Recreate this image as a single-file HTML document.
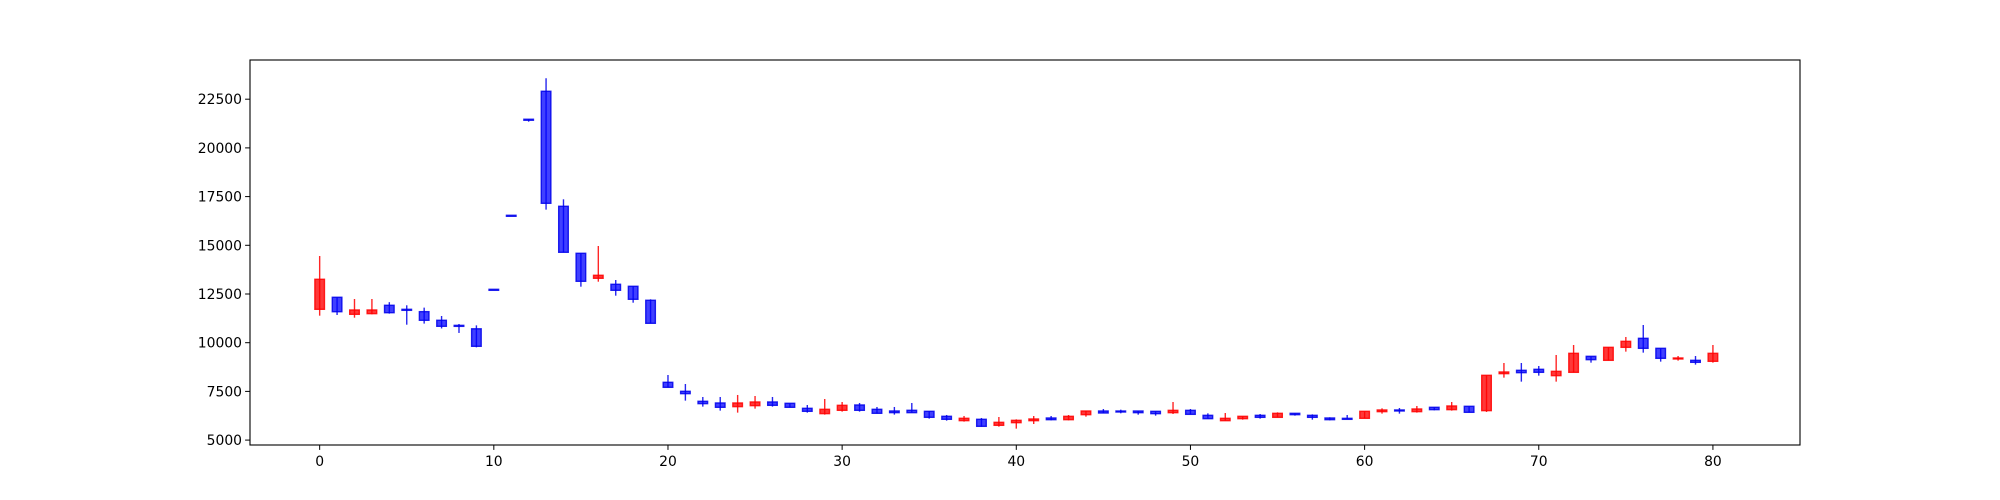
<!DOCTYPE html>
<html><head><meta charset="utf-8">
<style>
html,body{margin:0;padding:0;background:#fff;}
svg{display:block;}
text{font-family:"DejaVu Sans","Liberation Sans",sans-serif;font-size:13.9px;fill:#000;}
</style></head>
<body>
<svg id="chart" width="2000" height="500" xmlns="http://www.w3.org/2000/svg">
<rect x="0" y="0" width="2000" height="500" fill="#fff"/>
<g id="candles"></g>
<g id="axes"></g>
</svg>
<script>
const opens  = [11714,12331,11457,11491,11920,11713,11593,11150,10890,10713,12740,16540,21470,22906,17002,14589,13306,12998,12895,12177,
7966,7504,6991,6905,6717,6768,6956,6888,6631,6358,6529,6802,6580,6494,6529,6477,6221,5998,6067,5758,5895,5997,6134,6048,6305,6493,6493,6493,6476,6408,6527,6271,5997,6100,6271,6168,6374,6271,6134,6117,
6118,6460,6546,6460,6683,6563,6734,6512,8411,8582,8633,8308,8479,9300,9095,9762,10224,9711,9181,9095,9044];
const closes = [13255,11591,11679,11679,11540,11713,11150,10842,10842,9815,12740,16540,21470,17156,14641,13152,13460,12690,12228,10996,
7709,7384,6871,6683,6905,6956,6785,6683,6477,6580,6785,6529,6375,6409,6409,6169,6067,6118,5707,5912,6014,6083,6048,6220,6493,6391,6459,6408,6357,6527,6322,6100,6117,6220,6168,6374,6305,6168,6048,6100,
6477,6546,6546,6597,6563,6751,6426,8325,8496,8462,8479,8530,9454,9129,9762,10070,9711,9198,9215,8992,9454];
const highs  = [14450,12331,12243,12243,12080,11920,11800,11370,10960,10890,12740,16540,21470,23573,17361,14589,14964,13218,12895,12228,
8342,7880,7213,7213,7316,7264,7213,6888,6802,7110,6956,6905,6700,6700,6905,6477,6289,6238,6135,6185,6066,6237,6237,6288,6493,6596,6562,6493,6476,6955,6596,6374,6391,6220,6340,6425,6374,6322,6168,6288,
6477,6631,6648,6751,6683,6956,6734,8325,8958,8958,8804,9369,9882,9300,9762,10293,10909,9711,9317,9317,9882];
const lows   = [11386,11422,11283,11457,11491,10924,10980,10730,10500,9760,12740,16540,21345,16828,14641,12875,13131,12413,12053,10996,
7709,7025,6717,6512,6409,6614,6717,6683,6409,6306,6460,6460,6375,6306,6409,6101,5998,5947,5689,5689,5587,5826,6014,6014,6202,6391,6374,6305,6254,6340,6322,6100,5997,6048,6100,6168,6254,6048,6014,6100,
6118,6358,6358,6409,6529,6512,6426,6443,8205,8000,8308,8000,8479,8975,9095,9540,9489,9027,9078,8873,8975];
const xTicks = [0,10,20,30,40,50,60,70,80];
const yTicks = [5000,7500,10000,12500,15000,17500,20000,22500];

const L=250,R=1800,T=60,B=445;
const xMin=-4,xMax=85,yMin=4748,yMax=24512;
const NS='http://www.w3.org/2000/svg';
function xs(v){return L+(v-xMin)/(xMax-xMin)*(R-L);}
function ys(v){return B-(v-yMin)/(yMax-yMin)*(B-T);}
function mk(tag,attrs,parent){const e=document.createElementNS(NS,tag);for(const k in attrs)e.setAttribute(k,attrs[k]);parent.appendChild(e);return e;}
const cg=document.getElementById('candles');
const ag=document.getElementById('axes');
const halfW=(xs(0.275)-xs(0));
for(let i=0;i<opens.length;i++){
  const up=closes[i]>opens[i];
  const fill=up?'rgba(255,0,0,0.78)':'rgba(0,0,255,0.75)';
  const edge=up?'rgba(255,0,0,0.85)':'rgba(0,0,235,0.85)';
  const cx=xs(i);
  const w=mk('line',{x1:cx,x2:cx,y1:ys(highs[i]),y2:ys(lows[i]),stroke:edge,'stroke-width':1.4},cg);
  
  
  const top=ys(Math.max(opens[i],closes[i])),bot=ys(Math.min(opens[i],closes[i]));
  const h=Math.max(bot-top,1);
  const r=mk('rect',{x:cx-halfW,y:top,width:2*halfW,height:h,fill:fill,stroke:edge,'stroke-width':1.4},cg);
  
  
}
const fr=mk('rect',{x:L,y:T,width:R-L,height:B-T,fill:'none',stroke:'#000','stroke-width':1.1},ag);


xTicks.forEach(t=>{
  const x=xs(t);
  const tl=mk('line',{x1:x,x2:x,y1:B,y2:B+4.9,stroke:'#000','stroke-width':1},ag);
  
  
  const tx=mk('text',{x:x,y:B+21,'text-anchor':'middle'},ag);
  tx.textContent=String(t);
  
  
});
yTicks.forEach(t=>{
  const y=ys(t);
  const tl=mk('line',{x1:L-4.9,x2:L,y1:y,y2:y,stroke:'#000','stroke-width':1},ag);
  
  
  const tx=mk('text',{x:L-8,y:y+5,'text-anchor':'end'},ag);
  tx.textContent=String(t);
  
  
});
</script>
</body></html>
